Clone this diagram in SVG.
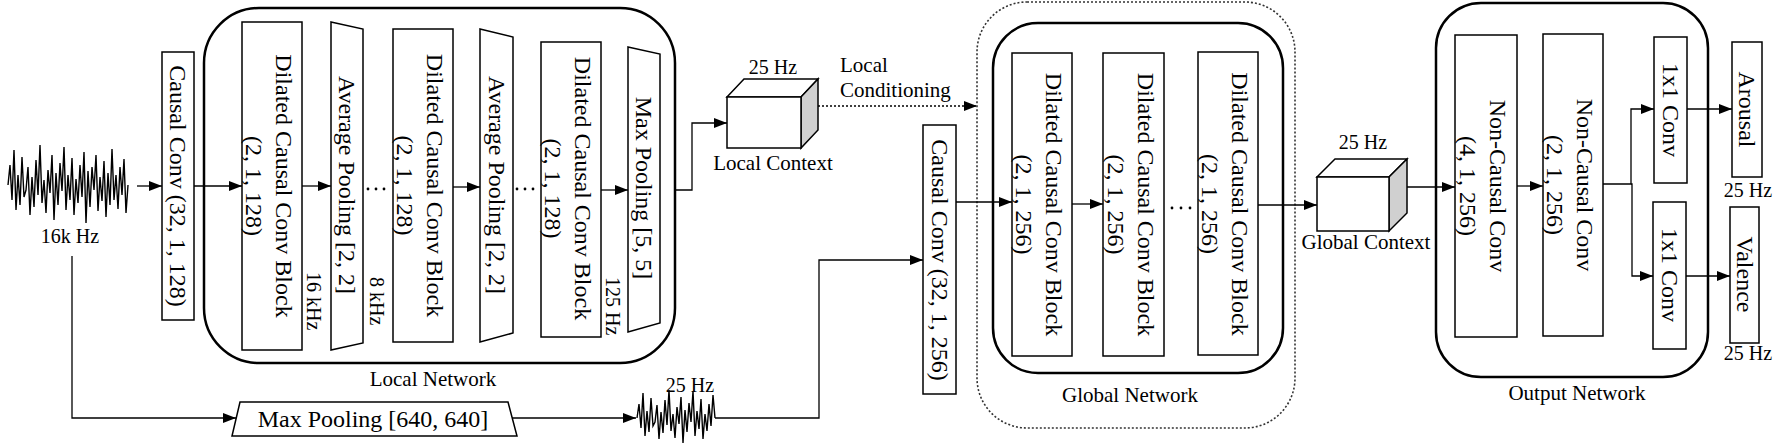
<svg xmlns="http://www.w3.org/2000/svg" width="1790" height="448" viewBox="0 0 1790 448">
<style>
text{font-family:"Liberation Serif","Times New Roman",serif;fill:#000}
.bt{font-size:24px;text-anchor:middle}
.lb{font-size:21px;text-anchor:middle}
.hz{font-size:20px}
.box{fill:#fff;stroke:#000;stroke-width:1.5}
.net{fill:none;stroke:#000;stroke-width:2.5}
.dnet{fill:none;stroke:#333;stroke-width:1.6;stroke-dasharray:2 2}
.ln{fill:none;stroke:#000;stroke-width:1.3}
.dl{fill:none;stroke:#000;stroke-width:1.3;stroke-dasharray:2 2}
.wave{fill:none;stroke:#000;stroke-width:1.4;stroke-linejoin:miter}
.side{fill:#d0d0d0;stroke:#000;stroke-width:1.5}
.dot{fill:#000}
</style>
<defs>
<marker id="ah" markerWidth="13" markerHeight="10" refX="13" refY="5" orient="auto" markerUnits="userSpaceOnUse">
<path d="M0,0 L13,5 L0,10 z" fill="#000"/>
</marker>
</defs>
<rect width="1790" height="448" fill="#fff"/>

<g id="local-network">
<rect class="net" x="204" y="8" width="471" height="355" rx="55" ry="55"/>
<text class="lb" x="433" y="386">Local Network</text>
</g>
<g id="global-network">
<rect class="dnet" x="977" y="2" width="318" height="426" rx="50" ry="50"/>
<rect class="net" x="993" y="23" width="290" height="350" rx="45" ry="45"/>
<text class="lb" x="1130" y="402">Global Network</text>
</g>
<g id="output-network">
<rect class="net" x="1436" y="3" width="272" height="374" rx="45" ry="45"/>
<text class="lb" x="1577" y="400">Output Network</text>
</g>

<g id="connectors">
<line class="ln" x1="137" y1="186" x2="162" y2="186" marker-end="url(#ah)"/>
<line class="ln" x1="194" y1="186" x2="242" y2="186" marker-end="url(#ah)"/>
<line class="ln" x1="302" y1="186" x2="331" y2="186" marker-end="url(#ah)"/>
<line class="ln" x1="453" y1="187" x2="480" y2="187" marker-end="url(#ah)"/>
<line class="ln" x1="601" y1="190" x2="628" y2="190" marker-end="url(#ah)"/>
<polyline class="ln" points="675,190 692,190 692,123 727,123" marker-end="url(#ah)"/>
<line class="dl" x1="818" y1="106" x2="977" y2="106" marker-end="url(#ah)"/>
<polyline class="ln" points="72,256 72,418 236,418" marker-end="url(#ah)"/>
<line class="ln" x1="512" y1="418" x2="636" y2="418" marker-end="url(#ah)"/>
<polyline class="ln" points="715,418 819,418 819,260 923,260" marker-end="url(#ah)"/>
<line class="ln" x1="956" y1="202" x2="1012" y2="202" marker-end="url(#ah)"/>
<line class="ln" x1="1072" y1="204" x2="1103" y2="204" marker-end="url(#ah)"/>
<line class="ln" x1="1258" y1="205" x2="1317" y2="205" marker-end="url(#ah)"/>
<line class="ln" x1="1407" y1="187" x2="1455" y2="187" marker-end="url(#ah)"/>
<line class="ln" x1="1517" y1="186" x2="1543" y2="186" marker-end="url(#ah)"/>
<polyline class="ln" points="1603,184 1631,184 1631,109 1654,109" marker-end="url(#ah)"/>
<polyline class="ln" points="1631,184 1632,184 1632,276 1653,276" marker-end="url(#ah)"/>
<line class="ln" x1="1687" y1="109" x2="1732" y2="109" marker-end="url(#ah)"/>
<line class="ln" x1="1686" y1="276" x2="1730" y2="276" marker-end="url(#ah)"/>
<circle class="dot" cx="368" cy="189" r="1.4"/><circle class="dot" cx="376" cy="189" r="1.4"/><circle class="dot" cx="384" cy="189" r="1.4"/>
<circle class="dot" cx="517" cy="189" r="1.4"/><circle class="dot" cx="525" cy="189" r="1.4"/><circle class="dot" cx="533" cy="189" r="1.4"/>
<circle class="dot" cx="1172" cy="208" r="1.4"/><circle class="dot" cx="1181" cy="208" r="1.4"/><circle class="dot" cx="1190" cy="208" r="1.4"/>
</g>

<g id="input-wave">
<polyline class="wave" points="8,185 10,165 12,200 14,150 16,210 18,175 20,205 22,157 24,197 26,190 28,167 30,215 32,177 34,207 36,160 38,195 40,145 42,203 44,180 46,213 48,170 50,193 52,155 54,220 56,173 58,205 60,163 62,191 64,147 66,210 68,175 70,200 72,158 74,215 76,179 78,203 80,165 82,197 84,152 86,223 88,171 90,207 92,167 94,190 96,155 98,211 100,177 102,201 104,161 106,217 108,173 110,205 112,149 114,200 116,175 118,209 120,167 122,195 124,159 126,213 128,185"/>
<text class="hz" x="70" y="243" text-anchor="middle">16k Hz</text>
</g>

<g id="causal-conv-1">
<rect class="box" x="162" y="52" width="32" height="268"/>
<text class="bt" transform="translate(178,186) rotate(90)" y="8">Causal Conv (32, 1, 128)</text>
</g>
<g id="dcc-block-1">
<rect class="box" x="242" y="22" width="60" height="328"/>
<text class="bt" transform="translate(272,186) rotate(90)"><tspan x="0" y="-4">Dilated Causal Conv Block</tspan><tspan x="0" y="26">(2, 1, 128)</tspan></text>
<text class="hz" transform="translate(307,272) rotate(90)">16 kHz</text>
</g>
<g id="avg-pool-1">
<polygon class="box" points="331,22 363,29 363,343 331,350"/>
<text class="bt" transform="translate(347,185) rotate(90)" y="8">Average Pooling [2, 2]</text>
<text class="hz" transform="translate(370,277) rotate(90)">8 kHz</text>
</g>
<g id="dcc-block-2">
<rect class="box" x="393" y="29" width="60" height="313"/>
<text class="bt" transform="translate(423,185.5) rotate(90)"><tspan x="0" y="-4">Dilated Causal Conv Block</tspan><tspan x="0" y="26">(2, 1, 128)</tspan></text>
</g>
<g id="avg-pool-2">
<polygon class="box" points="480,29 513,37 513,333 480,342"/>
<text class="bt" transform="translate(496.5,185) rotate(90)" y="8">Average Pooling [2, 2]</text>
</g>
<g id="dcc-block-3">
<rect class="box" x="541" y="42" width="60" height="295"/>
<text class="bt" transform="translate(571,188.5) rotate(90)"><tspan x="0" y="-4">Dilated Causal Conv Block</tspan><tspan x="0" y="26">(2, 1, 128)</tspan></text>
<text class="hz" transform="translate(606,277) rotate(90)">125 Hz</text>
</g>
<g id="max-pool-5">
<polygon class="box" points="628,47 660,54 660,323 628,332"/>
<text class="bt" transform="translate(644,188) rotate(90)" y="8">Max Pooling [5, 5]</text>
</g>

<g id="local-context">
<polygon class="box" points="727,97 744,79 818,79 801,97"/>
<polygon class="side" points="801,97 818,79 818,130 801,148"/>
<rect class="box" x="727" y="97" width="74" height="51"/>
<text class="hz" x="773" y="74" text-anchor="middle">25 Hz</text>
<text class="lb" x="773" y="170">Local Context</text>
</g>
<g id="local-conditioning-label">
<text class="lb" style="text-anchor:start"><tspan x="840" y="72">Local</tspan><tspan x="840" y="97">Conditioning</tspan></text>
</g>

<g id="max-pool-640">
<polygon class="box" points="240,402 508,402 517,436 232,436"/>
<text class="bt" x="373" y="427">Max Pooling [640, 640]</text>
</g>
<g id="pooled-wave">
<polyline class="wave" points="637,418 639,404 641,428 643,393 645,436 647,411 649,432 651,398 653,426 655,422 657,405 659,439 661,412 663,433 665,400 667,425 669,390 671,431 673,414 675,438 677,407 679,424 681,397 683,443 685,410 687,432 689,403 691,422 693,391 695,436 697,411 699,429 701,399 703,439 705,414 707,431 709,404 711,426 713,395 715,418"/>
<text class="hz" x="690" y="392" text-anchor="middle">25 Hz</text>
</g>

<g id="causal-conv-2">
<rect class="box" x="923" y="125" width="33" height="269"/>
<text class="bt" transform="translate(939.5,260) rotate(90)" y="8">Causal Conv (32, 1, 256)</text>
</g>
<g id="gdcc-block-1">
<rect class="box" x="1012" y="53" width="60" height="303"/>
<text class="bt" transform="translate(1042,204.5) rotate(90)"><tspan x="0" y="-4">Dilated Causal Conv Block</tspan><tspan x="0" y="26">(2, 1, 256)</tspan></text>
</g>
<g id="gdcc-block-2">
<rect class="box" x="1103" y="53" width="61" height="303"/>
<text class="bt" transform="translate(1133.5,204.5) rotate(90)"><tspan x="0" y="-4">Dilated Causal Conv Block</tspan><tspan x="0" y="26">(2, 1, 256)</tspan></text>
</g>
<g id="gdcc-block-3">
<rect class="box" x="1198" y="52" width="60" height="303"/>
<text class="bt" transform="translate(1228,204) rotate(90)"><tspan x="0" y="-4">Dilated Causal Conv Block</tspan><tspan x="0" y="26">(2, 1, 256)</tspan></text>
</g>

<g id="global-context">
<polygon class="box" points="1317,177 1335,159 1407,159 1389,177"/>
<polygon class="side" points="1389,177 1407,159 1407,213 1389,231"/>
<rect class="box" x="1317" y="177" width="72" height="54"/>
<text class="hz" x="1363" y="149" text-anchor="middle">25 Hz</text>
<text class="lb" x="1366" y="249">Global Context</text>
</g>

<g id="noncausal-1">
<rect class="box" x="1455" y="35" width="62" height="302"/>
<text class="bt" transform="translate(1486,186) rotate(90)"><tspan x="0" y="-4">Non-Causal Conv</tspan><tspan x="0" y="26">(4, 1, 256)</tspan></text>
</g>
<g id="noncausal-2">
<rect class="box" x="1543" y="34" width="60" height="302"/>
<text class="bt" transform="translate(1573,185) rotate(90)"><tspan x="0" y="-4">Non-Causal Conv</tspan><tspan x="0" y="26">(2, 1, 256)</tspan></text>
</g>
<g id="conv1x1-a">
<rect class="box" x="1654" y="37" width="33" height="146"/>
<text class="bt" transform="translate(1670.5,110) rotate(90)" y="8">1x1 Conv</text>
</g>
<g id="conv1x1-v">
<rect class="box" x="1653" y="202" width="33" height="147"/>
<text class="bt" transform="translate(1669.5,275) rotate(90)" y="8">1x1 Conv</text>
</g>
<g id="arousal">
<rect class="box" x="1732" y="42" width="30" height="135"/>
<text class="bt" transform="translate(1747,109.5) rotate(90)" y="8">Arousal</text>
<text class="hz" x="1748" y="197" text-anchor="middle">25 Hz</text>
</g>
<g id="valence">
<rect class="box" x="1730" y="207" width="29" height="136"/>
<text class="bt" transform="translate(1744.5,274.5) rotate(90)" y="8">Valence</text>
<text class="hz" x="1748" y="360" text-anchor="middle">25 Hz</text>
</g>
</svg>
